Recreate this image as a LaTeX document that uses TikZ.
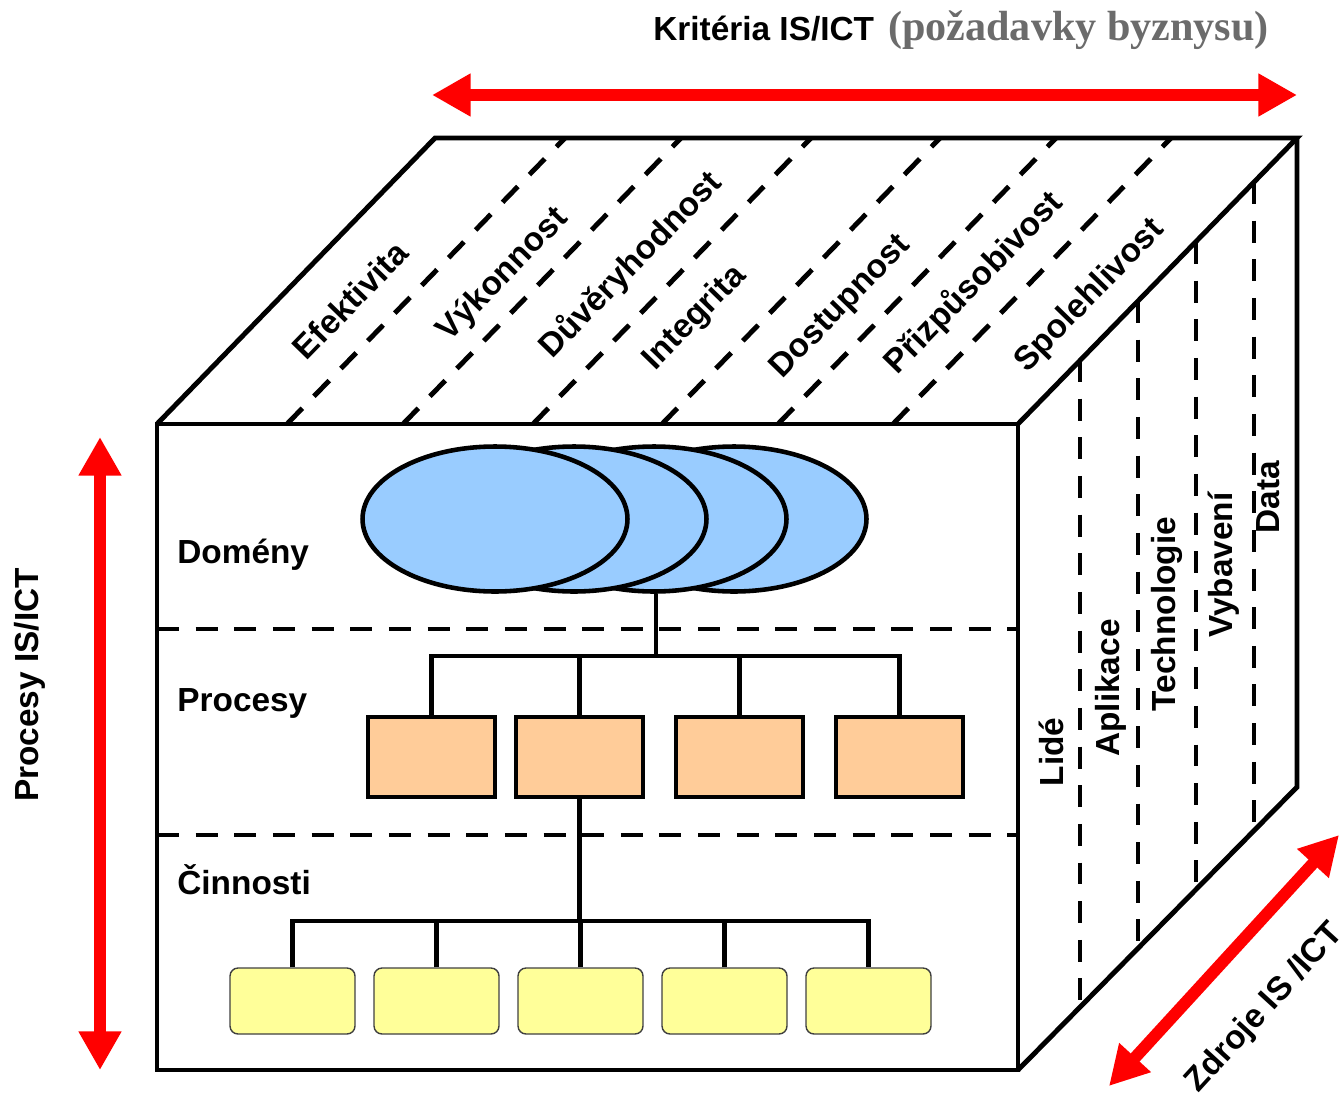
\documentclass[tikz,border=0pt]{standalone}
\usepackage{fontspec}
\setmainfont{Liberation Sans}
\newfontfamily\serifb{Liberation Serif}
\usetikzlibrary{arrows.meta,shapes.geometric}
\definecolor{domblue}{HTML}{99CCFF}
\definecolor{procor}{HTML}{FFCC99}
\definecolor{actyel}{HTML}{FFFF99}
\definecolor{titlegray}{HTML}{6B6B6B}
\begin{document}
\begin{tikzpicture}[x=0.02cm,y=-0.02cm,
  cube/.style={line width=2.8pt, line join=miter},
  dsh/.style={line width=2.8pt, dash pattern=on 12.5pt off 9.5pt},
  lbl/.style={font=\bfseries\fontsize{19}{22}\selectfont, inner sep=0pt},
  tlbl/.style={lbl, rotate=45.8},
  rlbl/.style={lbl, rotate=90},
  tree/.style={line width=2.4pt},
  dom/.style={ellipse, draw, line width=2.6pt, fill=domblue, minimum width=5.3cm, minimum height=2.9cm, inner sep=0pt},
  proc/.style={draw, line width=2.6pt, fill=procor, minimum width=2.54cm, minimum height=1.6cm, inner sep=0pt},
  act/.style={draw=black!75, line width=0.8pt, fill=actyel, rounded corners=0.16cm, minimum width=2.5cm, minimum height=1.32cm, inner sep=0pt},
  redarr/.style={red, line width=6.8pt, {Triangle[width=23pt,length=22pt]}-{Triangle[width=23pt,length=22pt]}}
]
\useasboundingbox (0,0) rectangle (1341,1092);

% cube corners
\coordinate (FLT) at (157,424);
\coordinate (FRT) at (1018,424);
\coordinate (FRB) at (1018,1070);
\coordinate (FLB) at (157,1070);
\coordinate (BLT) at (435,138);
\coordinate (BRT) at (1297,138);
\coordinate (BRB) at (1297,787);

% top face dashed lines
\foreach \x in {287,403,533,662,778,893}
  \draw[dsh] (\x,424) -- ++(278,-286);
% right face dashed lines
\foreach \x/\yt/\yb in {1080/360/1007,1138/301/948,1196/242/890,1254/182/831}
  \draw[dsh] (\x,\yt) -- (\x,\yb);
% front face dashed lines
\draw[dsh] (157,629) -- (1018,629);
\draw[dsh] (157,835) -- (1018,835);

% cube outline
\draw[cube] (FLT) rectangle (FRB);
\draw[cube] (FLT) -- (BLT) -- (BRT) -- (FRT);
\draw[cube] (BRT) -- (BRB) -- (FRB);

% top face labels
\node[tlbl] (efe) at (350,300) {Efektivita};
\node[tlbl] (vyk) at (503,275) {Výkonnost};
\node[tlbl] (duv) at (631,265) {Důvěryhodnost};
\node[tlbl] (int) at (695,318) {Integrita};
\node[tlbl] (dos) at (841,307) {Dostupnost};
\node[tlbl] (pri) at (974,283) {Přizpůsobivost};
\node[tlbl] (spo) at (1090,296) {Spolehlivost};

% right face labels
\node[rlbl] (lid) at (1051,752) {Lidé};
\node[rlbl] (apl) at (1111,688) {Aplikace};
\node[rlbl] (tec) at (1167,614) {Technologie};
\node[rlbl] (vyb) at (1224,565) {Vybavení};
\node[rlbl] (dat) at (1268,497) {Data};

% front labels
\node[lbl, anchor=west] (ldom) at (177,555) {Domény};
\node[lbl, anchor=west] (lpro) at (177,703) {Procesy};
\node[lbl, anchor=west] (lcin) at (177,880) {Činnosti};

% domains
\node[dom] (e4) at (734,519) {};
\node[dom] (e3) at (654,519) {};
\node[dom] (e2) at (574,519) {};
\node[dom] (e1) at (495,519) {};

% processes
\node[proc] (p1) at (431.5,757) {};
\node[proc] (p2) at (579.5,757) {};
\node[proc] (p3) at (739.5,757) {};
\node[proc] (p4) at (899.5,757) {};

% activities
\node[act] (a1) at (292.5,1001) {};
\node[act] (a2) at (436.5,1001) {};
\node[act] (a3) at (580.5,1001) {};
\node[act] (a4) at (724.5,1001) {};
\node[act] (a5) at (868.5,1001) {};

% tree connectors
\coordinate (bar1) at (656,656);
\coordinate (bar2) at (580,921);
\draw[tree] (bar1 |- e3.south) -- (bar1);
\draw[tree] (p1.north) -- (p1.north |- bar1) -- (p4.north |- bar1) -- (p4.north);
\draw[tree] (p2.north) -- (p2.north |- bar1);
\draw[tree] (p3.north) -- (p3.north |- bar1);
\draw[tree] (p2.south) -- (p2.south |- bar2);
\draw[tree] (a1.north) -- (a1.north |- bar2) -- (a5.north |- bar2) -- (a5.north);
\draw[tree] (a2.north) -- (a2.north |- bar2);
\draw[tree] (a3.north) -- (a3.north |- bar2);
\draw[tree] (a4.north) -- (a4.north |- bar2);

% red arrows
\coordinate (hl) at (432,95);
\coordinate (hr) at (1297,95);
\coordinate (vt) at (100,437);
\coordinate (vb) at (100,1070);
\coordinate (dl) at (1109,1086);
\coordinate (du) at (1339,835);
\draw[redarr] (hl) -- (hr);
\draw[redarr] (vt) -- (vb);
\draw[redarr] (dl) -- (du);

% axis labels
\node[anchor=base west, inner sep=0pt] (title) at (653,40)
  {\bfseries\fontsize{19}{22}\selectfont Kritéria IS/ICT\hspace{8pt}{\serifb\bfseries\color{titlegray}\fontsize{24}{28}\selectfont(požadavky byznysu)}};
\node[rlbl] (proclbl) at (30,685) {Procesy IS/ICT};
\node[lbl, rotate=47.5] (zdr) at (1265,1008) {Zdroje IS /ICT};
\end{tikzpicture}
\end{document}
